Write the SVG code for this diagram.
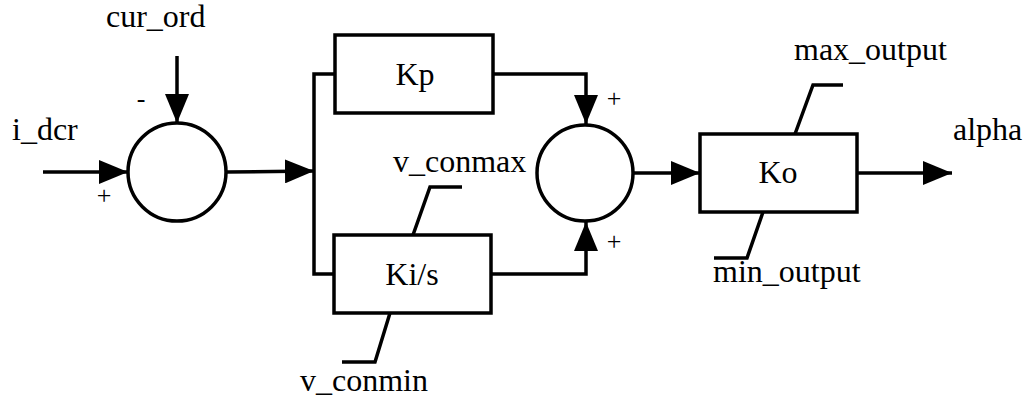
<svg xmlns="http://www.w3.org/2000/svg" width="1024" height="400" viewBox="0 0 1024 400">
<style>
.ln{fill:none;stroke:#000;stroke-width:3.5;stroke-linejoin:miter}
.arr{marker-end:url(#ah)}
.shape{fill:#fff;stroke:#000;stroke-width:3.5}
.sign{font-size:26px;text-anchor:middle}
.mid{text-anchor:middle}
</style>
<defs>
<marker id="ah" markerUnits="userSpaceOnUse" markerWidth="30" markerHeight="24" refX="29" refY="12" orient="auto">
<path d="M0,0 L29,12 L0,24 Z" fill="#000"/>
</marker>
</defs>
<rect width="1024" height="400" fill="#fff"/>
<g id="connectors">
<path class="ln arr" d="M43,172 H128"/>
<path class="ln arr" d="M177,56 V123"/>
<path class="ln arr" d="M227,172 L314,171"/>
<path class="ln" d="M335,74 H314 V274 H334"/>
<path class="ln arr" d="M493,74 H586 V124"/>
<path class="ln arr" d="M491,274 H586 V222"/>
<path class="ln arr" d="M633,173 H700"/>
<path class="ln arr" d="M857,173 H952"/>
</g>
<g font-family="'Liberation Serif', 'DejaVu Serif', serif" font-size="32" fill="#000">
<g id="sum1">
<circle class="shape" cx="177" cy="172" r="49"/>
<text class="sign" x="141" y="107">-</text>
<text class="sign" x="104" y="204">+</text>
</g>
<g id="in_i_dcr"><text x="12" y="140">i_dcr</text></g>
<g id="in_cur_ord"><text x="106" y="27">cur_ord</text></g>
<g id="kp">
<rect class="shape" x="335" y="35" width="158" height="78"/>
<text class="mid" x="415" y="85">Kp</text>
</g>
<g id="ki">
<rect class="shape" x="334" y="235" width="157" height="78"/>
<text class="mid" x="412" y="285">Ki/s</text>
<path class="ln" d="M413,235 L430,187 H462"/>
<path class="ln" d="M390,313 L375,362 H342"/>
<text x="393" y="172">v_conmax</text>
<text x="300" y="391">v_conmin</text>
</g>
<g id="sum2">
<circle class="shape" cx="585" cy="173" r="48"/>
<text class="sign" x="614" y="107">+</text>
<text class="sign" x="614" y="250">+</text>
</g>
<g id="ko">
<rect class="shape" x="700" y="134" width="157" height="78"/>
<text class="mid" x="778" y="183">Ko</text>
<path class="ln" d="M795,134 L813,85 H843"/>
<path class="ln" d="M763,212 L747,258 H714"/>
<text x="794" y="60">max_output</text>
<text x="713" y="282">min_output</text>
</g>
<g id="out_alpha"><text x="953" y="140">alpha</text></g>
</g>
</svg>
